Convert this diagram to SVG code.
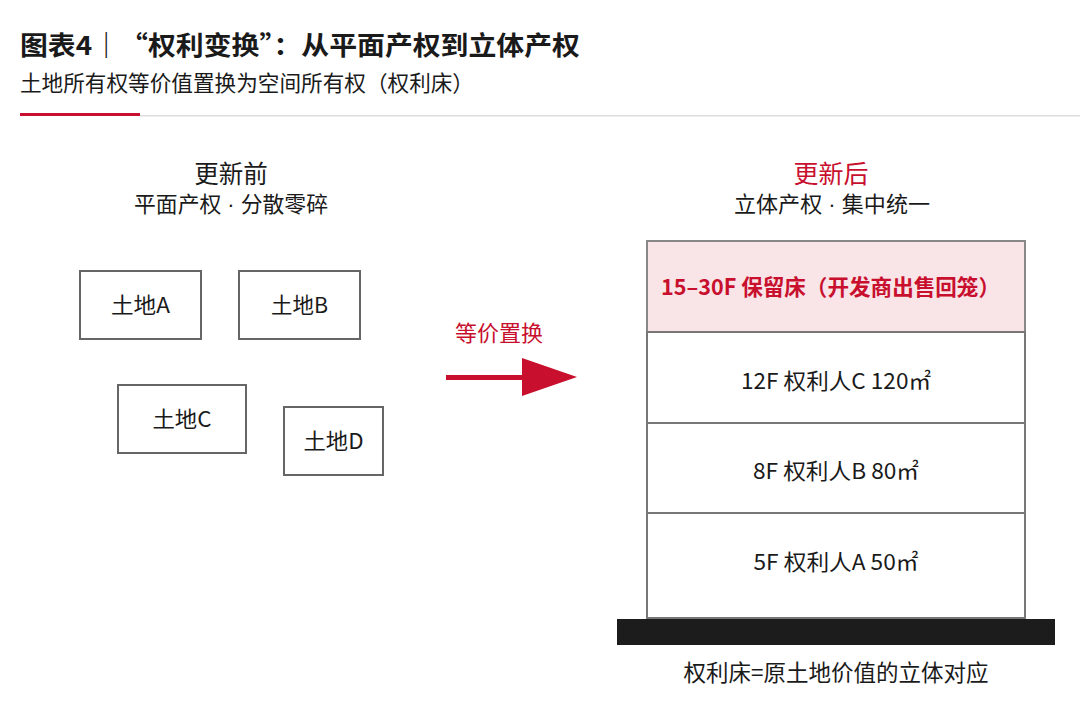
<svg xmlns="http://www.w3.org/2000/svg" width="1080" height="703" viewBox="0 0 1080 703">
<style>
text{font-family:"Noto Sans CJK SC","Noto Sans",sans-serif;fill:#1a1a1a}
.dot{font-family:"Liberation Sans",sans-serif}
.box{fill:#fff;stroke:#666;stroke-width:2}
.lbl{font-size:22px;text-anchor:middle}
.red{fill:#c8102e}
.fl{fill:#fff;stroke:#777;stroke-width:2}
</style>
<rect width="1080" height="703" fill="#fff"/>
<g id="header">
<text x="20" y="55" textLength="560" lengthAdjust="spacingAndGlyphs" style="font-size:26px;font-weight:bold">图表4｜“权利变换”：从平面产权到立体产权</text>
<text x="20" y="91" textLength="454" lengthAdjust="spacingAndGlyphs" style="font-size:22px">土地所有权等价值置换为空间所有权（权利床）</text>
<rect x="140" y="115" width="940" height="1.5" fill="#ddd"/>
<rect x="20" y="113" width="120" height="3" fill="#c8102e"/>
</g>
<g id="before-title">
<text x="231" y="183" class="lbl" style="font-size:24.5px">更新前</text>
<text x="231" y="212" class="lbl" textLength="194" lengthAdjust="spacingAndGlyphs" style="font-size:22px">平面产权<tspan class="dot"> · </tspan>分散零碎</text>
</g>
<g id="landA"><rect x="80" y="271" width="121" height="68" class="box"/><text x="140.5" y="313" class="lbl" textLength="59" lengthAdjust="spacingAndGlyphs">土地A</text></g>
<g id="landB"><rect x="239" y="271" width="121" height="68" class="box"/><text x="299.5" y="313" class="lbl" textLength="57" lengthAdjust="spacingAndGlyphs">土地B</text></g>
<g id="landC"><rect x="118" y="385" width="128" height="68" class="box"/><text x="182" y="427" class="lbl" textLength="59" lengthAdjust="spacingAndGlyphs">土地C</text></g>
<g id="landD"><rect x="284" y="407" width="99" height="68" class="box"/><text x="333.5" y="449" class="lbl" textLength="60" lengthAdjust="spacingAndGlyphs">土地D</text></g>
<g id="connectors">
<text x="499" y="341" class="lbl red">等价置换</text>
<rect x="446" y="375" width="78" height="5" fill="#c8102e"/>
<polygon points="522,358 577,377 522,396" fill="#c8102e"/>
</g>
<g id="after-title">
<text x="831" y="183" class="lbl red" style="font-size:25px">更新后</text>
<text x="832" y="212" class="lbl" textLength="196" lengthAdjust="spacingAndGlyphs" style="font-size:22px">立体产权<tspan class="dot"> · </tspan>集中统一</text>
</g>
<g id="floor-reserved"><rect x="647" y="241" width="378" height="91" fill="#f9e4e8" stroke="#888" stroke-width="2"/><text x="661" y="295" class="red" textLength="339" lengthAdjust="spacingAndGlyphs" style="font-size:22px;font-weight:bold">15–30F 保留床（开发商出售回笼）</text></g>
<g id="floor-12"><rect x="647" y="332" width="378" height="91" class="fl"/><text x="836" y="389" class="lbl" textLength="190" lengthAdjust="spacingAndGlyphs">12F 权利人C 120㎡</text></g>
<g id="floor-8"><rect x="647" y="423" width="378" height="90" class="fl"/><text x="836" y="479" class="lbl" textLength="166" lengthAdjust="spacingAndGlyphs">8F 权利人B 80㎡</text></g>
<g id="floor-5"><rect x="647" y="513" width="378" height="105" class="fl"/><text x="836" y="570" class="lbl" textLength="165" lengthAdjust="spacingAndGlyphs">5F 权利人A 50㎡</text></g>
<g id="ground"><rect x="617" y="619" width="438" height="26" fill="#1c1c1c"/></g>
<g id="caption"><text x="836" y="681" class="lbl" textLength="305" lengthAdjust="spacingAndGlyphs" style="font-size:22.5px">权利床=原土地价值的立体对应</text></g>
</svg>
